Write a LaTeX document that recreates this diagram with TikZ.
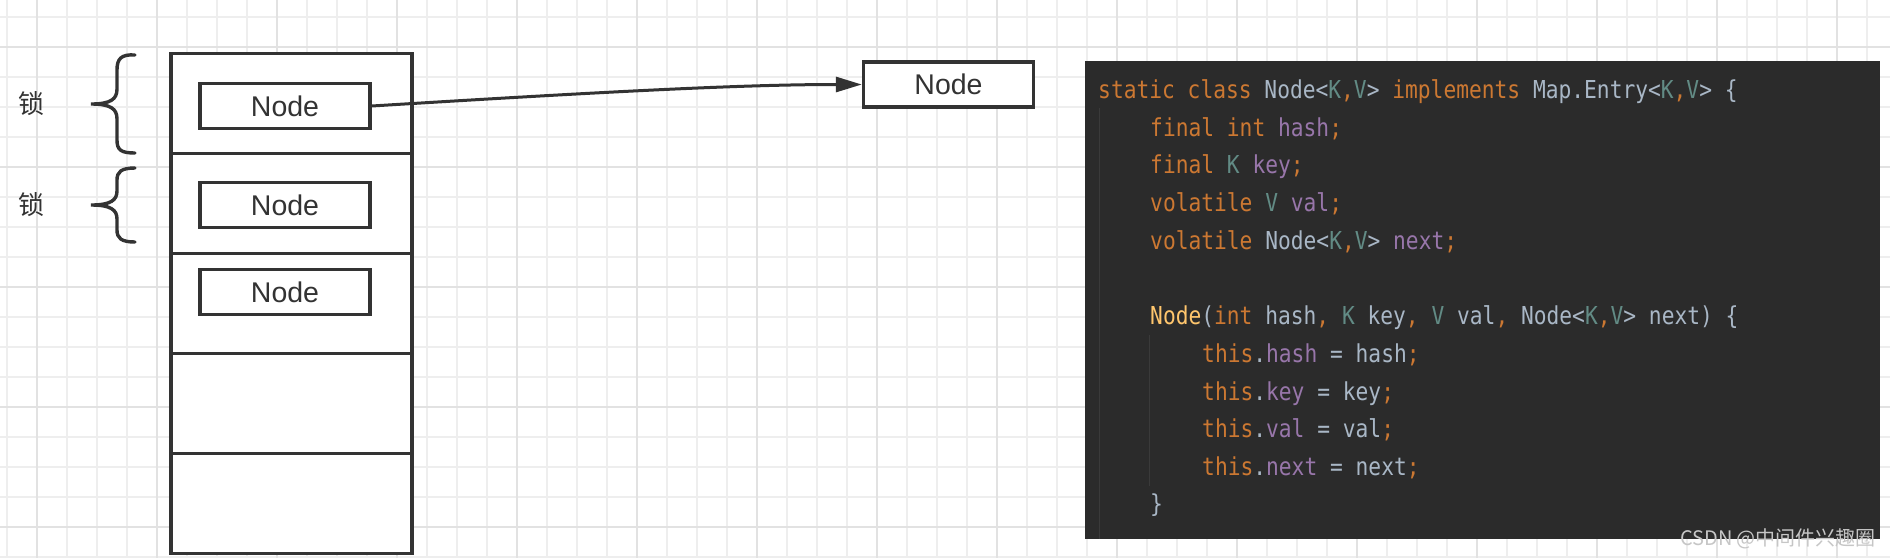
\documentclass[tikz,border=0pt]{standalone}
\usepackage{fontspec}
\setmainfont{Liberation Sans}
\newfontfamily\cjk{Noto Sans CJK SC}
\newfontfamily\codefont[FakeStretch=0.86]{DejaVu Sans Mono}
\usepackage{xcolor}
\usetikzlibrary{positioning, arrows.meta}

\definecolor{boxline}{HTML}{333333}
\definecolor{gridminor}{HTML}{EEEEEE}
\definecolor{gridmajor}{HTML}{E2E2E2}
\definecolor{codebg}{HTML}{2B2B2B}
\definecolor{codefg}{HTML}{A9B7C6}
\definecolor{codekw}{HTML}{CC7832}
\definecolor{codetp}{HTML}{628B85}
\definecolor{codefld}{HTML}{9876AA}
\definecolor{codefn}{HTML}{FFC66D}
\definecolor{guide}{HTML}{3A3A3A}

\newcommand{\kw}[1]{\textcolor{codekw}{#1}}
\newcommand{\tp}[1]{\textcolor{codetp}{#1}}
\newcommand{\fld}[1]{\textcolor{codefld}{#1}}
\newcommand{\fn}[1]{\textcolor{codefn}{#1}}

\begin{document}
\begin{tikzpicture}[
        x=1pt, y=-1pt,
        row/.style={
            draw=boxline,
            line width=3.4pt,
            fill=white,
            minimum width=241pt,
            minimum height=100pt,
            inner sep=0pt,
            outer sep=0pt
        },
        item/.style={
            draw=boxline,
            line width=3.4pt,
            fill=white,
            minimum width=170pt,
            minimum height=45pt,
            inner sep=0pt,
            text=boxline,
            font=\fontsize{28.5}{30}\selectfont
        },
        lock/.style={
            text=boxline,
            font=\cjk\fontsize{26}{30}\selectfont
        },
        brace/.style={
            draw=boxline,
            line width=3.4pt,
            line cap=round
        },
        link/.style={
            draw=boxline,
            line width=3pt,
            -{Triangle[length=26pt,width=15pt]}
        },
        panel/.style={
            fill=codebg,
            minimum width=795pt,
            minimum height=478pt,
            inner sep=0pt
        },
        codeline/.style={
            anchor=base west,
            inner sep=0pt,
            text=codefg,
            font=\codefont\fontsize{24.7}{30}\selectfont
        }
    ]
        \useasboundingbox (0,0) rectangle (1890,558);
        \fill[white] (0,0) rectangle (1890,558);

        % grid paper
        \foreach \gx in {7,37,...,1890}
            \draw[gridminor, line width=1.5pt] (\gx,0) -- (\gx,558);
        \foreach \gy in {17,47,...,558}
            \draw[gridminor, line width=1.5pt] (0,\gy) -- (1890,\gy);
        \foreach \gx in {37,157,...,1890}
            \draw[gridmajor, line width=1.5pt] (\gx,0) -- (\gx,558);
        \foreach \gy in {47,167,...,558}
            \draw[gridmajor, line width=1.5pt] (0,\gy) -- (1890,\gy);

        % table of bins
        \node (row1) [row] at (291.5,103.5) {};
        \node (row2) [row, below=0pt of row1] {};
        \node (row3) [row, below=0pt of row2] {};
        \node (row4) [row, below=0pt of row3] {};
        \node (row5) [row, below=0pt of row4] {};

        \node (n1) [item] at (285,106) {Node};
        \node (n2) [item] at (285,205) {Node};
        \node (n3) [item] at (285,292) {Node};
        \node (nr) [item] at (948.5,84.5) {Node};

        % locks
        \node (lock1) [lock] at (31,104) {锁};
        \node (lock2) [lock] at (31,205) {锁};
        \draw[brace] (135,55) .. controls (121,54) and (117,59) .. (117,70) -- (117,89)
            .. controls (117,99) and (111,104) .. (91,104)
            .. controls (111,104) and (117,109) .. (117,119) -- (117,140)
            .. controls (117,150) and (121,153) .. (135,153);
        \draw[brace] (135,168) .. controls (121,168) and (117,172) .. (117,180) -- (117,191)
            .. controls (117,200) and (111,205) .. (91,205)
            .. controls (111,205) and (117,210) .. (117,219) -- (117,230)
            .. controls (117,238) and (121,242) .. (135,242);

        % link to next node
        \draw[link] (n1.east) .. controls (600,92) and (740,84.5) .. (nr.west);

        % source code
        \node (code) [panel] at (1482.5,300) {};
        \draw[guide, line width=1pt] (1099,108) -- (1099,539);
        \draw[guide, line width=1pt] (1149,335) -- (1149,486);

        \node (l1) [codeline] at (1098,98) {\kw{static class} Node<\tp{K}\kw{,}\tp{V}> \kw{implements} Map.Entry<\tp{K}\kw{,}\tp{V}> \{};
        \node (l2) [codeline] at (1150,136) {\kw{final int} \fld{hash}\kw{;}};
        \node (l3) [codeline] at (1150,173) {\kw{final} \tp{K} \fld{key}\kw{;}};
        \node (l4) [codeline] at (1150,211) {\kw{volatile} \tp{V} \fld{val}\kw{;}};
        \node (l5) [codeline] at (1150,249) {\kw{volatile} Node<\tp{K}\kw{,}\tp{V}> \fld{next}\kw{;}};
        \node (l6) [codeline] at (1150,324) {\fn{Node}(\kw{int} hash\kw{,} \tp{K} key\kw{,} \tp{V} val\kw{,} Node<\tp{K}\kw{,}\tp{V}> next) \{};
        \node (l7) [codeline] at (1202,362) {\kw{this}.\fld{hash} = hash\kw{;}};
        \node (l8) [codeline] at (1202,400) {\kw{this}.\fld{key} = key\kw{;}};
        \node (l9) [codeline] at (1202,437) {\kw{this}.\fld{val} = val\kw{;}};
        \node (l10) [codeline] at (1202,475) {\kw{this}.\fld{next} = next\kw{;}};
        \node (l11) [codeline] at (1150,512) {\}};

        \node (mark) [text=gray!45, font=\cjk\fontsize{20}{22}\selectfont] at (1778,539) {CSDN @中间件兴趣圈};
    \end{tikzpicture}
\end{document}
